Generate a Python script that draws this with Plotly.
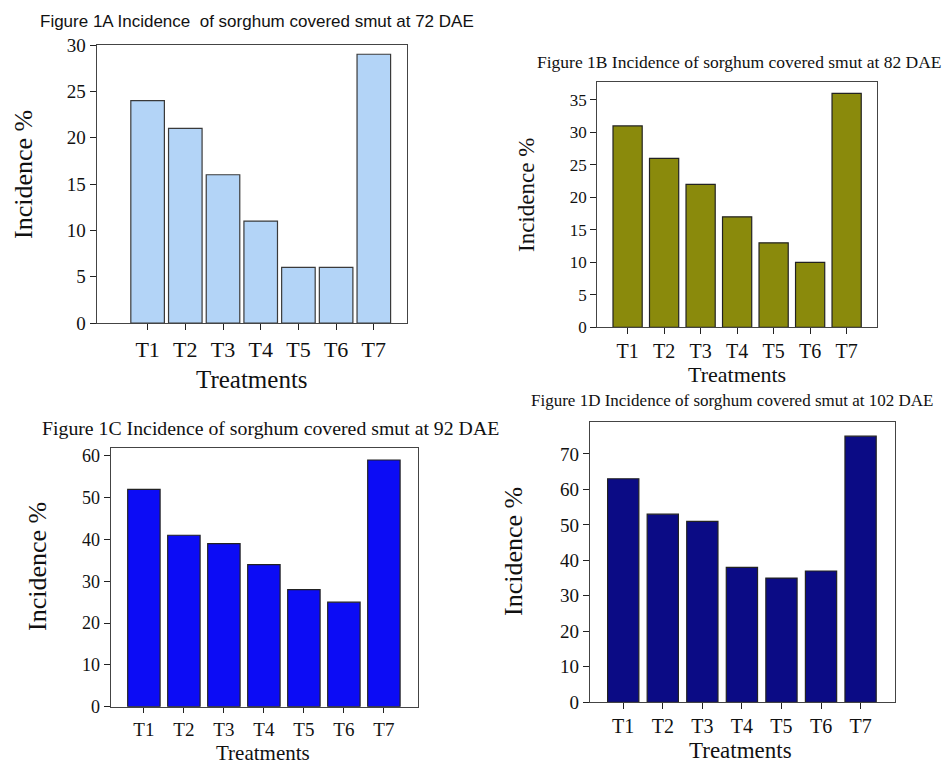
import plotly.graph_objects as go

treatments = ["T1", "T2", "T3", "T4", "T5", "T6", "T7"]
incidence_72 = [24, 21, 16, 11, 6, 6, 29]
incidence_82 = [31, 26, 22, 17, 13, 10, 36]
incidence_92 = [52, 41, 39, 34, 28, 25, 59]
incidence_102 = [63, 53, 51, 38, 35, 37, 75]

W, H = 946, 764
SERIF = "Liberation Serif, Times New Roman, serif"
SANS = "Liberation Sans, Arial, sans-serif"

def px_x(v):
    return v / W

def px_y(v):
    return 1 - v / H

panels = [
    dict(vals=incidence_72, color="#b3d4f7", line="#3a3a3a",
         xdom=(96.7, 407), ydom=(323, 45), yr=(0, 30), xr=(-1.35, 6.88),
         dtick=5, width=0.89, ytick_size=19, xtick_size=22, xticklen=6,
         title="Figure 1A Incidence  of sorghum covered smut at 72 DAE",
         title_font=SANS, title_size=17, title_xy=(38, 22), title_anchor="left",
         ytitle_xy=(24, 175), ytitle_size=26, xtitle_xy=(252, 379), xtitle_size=25),
    dict(vals=incidence_82, color="#8a8a0c", line="#222222",
         xdom=(597.3, 877.3), ydom=(327.3, 81.7), yr=(0, 37.8), xr=(-0.83, 6.84),
         dtick=5, width=0.8, ytick_size=17, xtick_size=20, xticklen=6,
         title="Figure 1B Incidence of sorghum covered smut at 82 DAE",
         title_font=SERIF, title_size=17.5, title_xy=(944, 61.7), title_anchor="right",
         ytitle_xy=(527, 195), ytitle_size=23, xtitle_xy=(737, 374), xtitle_size=22),
    dict(vals=incidence_92, color="#0c0cf5", line="#222222",
         xdom=(110.7, 418.3), ydom=(706.7, 448.3), yr=(0, 61.8), xr=(-0.83, 6.86),
         dtick=10, width=0.81, ytick_size=18, xtick_size=19, xticklen=5,
         title="Figure 1C Incidence of sorghum covered smut at 92 DAE",
         title_font=SERIF, title_size=19.8, title_xy=(40, 428), title_anchor="left",
         ytitle_xy=(37, 567), ytitle_size=26, xtitle_xy=(263, 753), xtitle_size=21),
    dict(vals=incidence_102, color="#0b0b85", line="#222222",
         xdom=(590, 895), ydom=(702.3, 422.3), yr=(0, 78.9), xr=(-0.84, 6.87),
         dtick=10, width=0.79, ytick_size=19, xtick_size=20, xticklen=6,
         title="Figure 1D Incidence of sorghum covered smut at 102 DAE",
         title_font=SERIF, title_size=17, title_xy=(935, 400), title_anchor="right",
         ytitle_xy=(513, 552), ytitle_size=26, xtitle_xy=(740, 750), xtitle_size=23),
]

fig = go.Figure()
annotations = []
layout_axes = {}
xpos = list(range(len(treatments)))

for i, p in enumerate(panels, start=1):
    xa = "x" if i == 1 else f"x{i}"
    ya = "y" if i == 1 else f"y{i}"
    fig.add_trace(go.Bar(
        x=xpos, y=p["vals"], xaxis=xa, yaxis=ya, width=p["width"],
        marker=dict(color=p["color"], line=dict(color=p["line"], width=1.2)),
        showlegend=False, hoverinfo="x+y",
    ))
    xkey = "xaxis" if i == 1 else f"xaxis{i}"
    ykey = "yaxis" if i == 1 else f"yaxis{i}"
    layout_axes[xkey] = dict(
        domain=[px_x(p["xdom"][0]), px_x(p["xdom"][1])],
        anchor=ya, range=list(p["xr"]), automargin=False,
        tickvals=xpos, ticktext=treatments,
        ticks="outside", ticklen=p["xticklen"], tickcolor="#222", tickwidth=1,
        showline=True, linecolor="#444", linewidth=1.2, mirror=True,
        showgrid=False, zeroline=False, fixedrange=True,
        tickfont=dict(family=SERIF, size=p["xtick_size"], color="#111"),
    )
    layout_axes[ykey] = dict(
        domain=[px_y(p["ydom"][0]), px_y(p["ydom"][1])],
        anchor=xa, range=list(p["yr"]), dtick=p["dtick"], tick0=0, automargin=False,
        ticks="outside", ticklen=6, tickcolor="#222", tickwidth=1,
        showline=True, linecolor="#444", linewidth=1.2, mirror=True,
        showgrid=False, zeroline=False, fixedrange=True,
        tickfont=dict(family=SERIF, size=p["ytick_size"], color="#111"),
    )
    tx, ty = p["title_xy"]
    annotations.append(dict(
        text=p["title"], xref="paper", yref="paper",
        x=px_x(tx), y=px_y(ty), xanchor=p["title_anchor"], yanchor="middle",
        showarrow=False, font=dict(family=p["title_font"], size=p["title_size"], color="#111"),
    ))
    yx, yy = p["ytitle_xy"]
    annotations.append(dict(
        text="Incidence %", xref="paper", yref="paper",
        x=px_x(yx), y=px_y(yy), xanchor="center", yanchor="middle", textangle=-90,
        showarrow=False, font=dict(family=SERIF, size=p["ytitle_size"], color="#111"),
    ))
    xx, xy = p["xtitle_xy"]
    annotations.append(dict(
        text="Treatments", xref="paper", yref="paper",
        x=px_x(xx), y=px_y(xy), xanchor="center", yanchor="middle",
        showarrow=False, font=dict(family=SERIF, size=p["xtitle_size"], color="#111"),
    ))

fig.update_layout(
    template="none",
    width=W, height=H, margin=dict(l=0, r=0, t=0, b=0, pad=0, autoexpand=False),
    paper_bgcolor="white", plot_bgcolor="white",
    annotations=annotations, bargap=0.1,
    **layout_axes,
)

fig.write_html(
    "out.html",
    config={"displayModeBar": False},
    post_script="document.body.style.margin='0';document.body.style.overflow='hidden';",
)
